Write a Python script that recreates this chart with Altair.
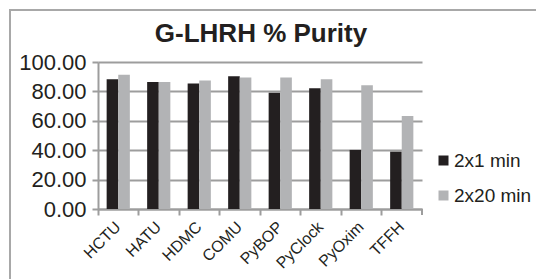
import altair as alt
import pandas as pd

categories = ["HCTU", "HATU", "HDMC", "COMU", "PyBOP", "PyClock", "PyOxim", "TFFH"]
series_names = ["2x1 min", "2x20 min"]
values_2x1 = [88.3, 86.4, 85.3, 90.3, 79.0, 82.2, 40.2, 39.0]
values_2x20 = [91.4, 86.4, 87.4, 89.4, 89.4, 88.3, 84.2, 63.2]
y_ticks = [0, 20, 40, 60, 80, 100]
title_text = "G-LHRH % Purity"

rows = []
for c, a, b in zip(categories, values_2x1, values_2x20):
    rows.append({"Reagent": c, "Series": series_names[0], "Purity": a})
    rows.append({"Reagent": c, "Series": series_names[1], "Purity": b})
df = pd.DataFrame(rows)

W, H = 324, 147
FONT = "Liberation Sans"
GRID = "#9d9d9d"

bars = alt.Chart(df).mark_bar().encode(
    x=alt.X("Reagent:N", sort=categories,
            scale=alt.Scale(paddingInner=0, paddingOuter=0),
            axis=alt.Axis(title=None, labelAngle=-45, labelAlign="right",
                          labelBaseline="middle", labelFontSize=16,
                          labelFont=FONT, labelColor="#231f20",
                          bandPosition=0, labelPadding=9,
                          tickSize=6, tickColor=GRID, tickWidth=2,
                          domainColor=GRID, domainWidth=2, grid=False)),
    xOffset=alt.XOffset("Series:N", sort=series_names,
                        scale=alt.Scale(paddingInner=0, paddingOuter=0.745)),
    y=alt.Y("Purity:Q", scale=alt.Scale(domain=[0, 100]),
            axis=alt.Axis(title=None, values=y_ticks, format=".2f",
                          labelFontSize=22, labelFont=FONT, labelColor="#231f20",
                          labelPadding=6, tickSize=6, tickColor=GRID, tickWidth=2,
                          domainColor=GRID, domainWidth=2,
                          grid=True, gridColor=GRID, gridWidth=2)),
    color=alt.Color("Series:N", sort=series_names,
                    scale=alt.Scale(domain=series_names, range=["#231f20", "#b2b3b5"]),
                    legend=alt.Legend(title=None, orient="none", legendX=336, legendY=89,
                                      padding=0, symbolType="square", symbolSize=100,
                                      symbolStrokeWidth=0, labelFontSize=19,
                                      labelFont=FONT, labelColor="#231f20",
                                      rowPadding=15, labelOffset=1)),
)

one = pd.DataFrame({"t": [title_text]})
frame = alt.Chart(one).mark_rect(fillOpacity=0, stroke="#a8a8a8", strokeWidth=2).encode(
    x=alt.value(-88), x2=alt.value(460), y=alt.value(-52), y2=alt.value(240)
)
end_tick = alt.Chart(one).mark_rule(color=GRID, strokeWidth=2).encode(
    x=alt.value(W), y=alt.value(H), y2=alt.value(H + 6)
)
title = alt.Chart(one).mark_text(fontSize=26, fontWeight="bold", font=FONT,
                                 color="#231f20", align="center",
                                 baseline="alphabetic").encode(
    text="t:N", x=alt.value(163), y=alt.value(-20)
)

chart = alt.layer(bars, end_tick, frame, title).properties(
    width=W, height=H,
    autosize=alt.AutoSizeParams(type="none"),
    padding={"left": 90, "top": 54, "right": 114, "bottom": 70},
).configure_view(stroke=None)

chart.save("out.html", embed_options={"renderer": "svg", "actions": False})
